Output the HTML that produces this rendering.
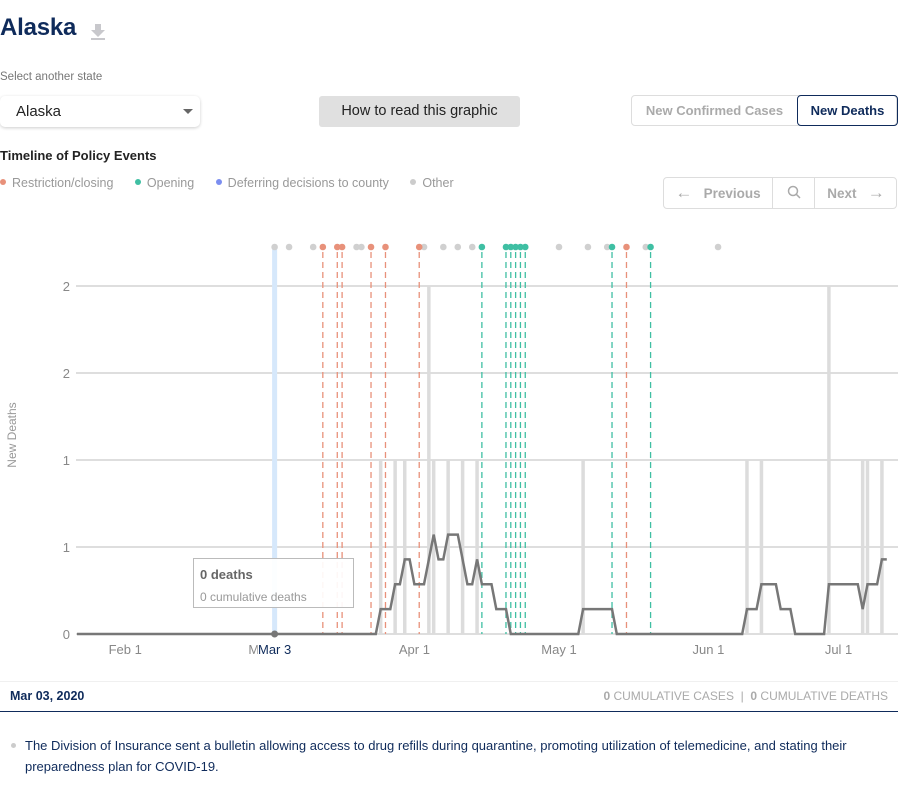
<!DOCTYPE html>
<html><head><meta charset="utf-8"><style>
body{margin:0;width:898px;height:797px;background:#fff;font-family:"Liberation Sans",sans-serif;position:relative;overflow:hidden}
.abs{position:absolute}
</style></head><body>
<div class="abs" style="left:0;top:14px;font-size:24px;font-weight:900;color:#0f2b5b;letter-spacing:-0.2px">Alaska</div>
<svg class="abs" style="left:90px;top:23px" width="16" height="18"><path d="M5 1h6v6h4l-7 7-7-7h4z" fill="#c8c8cc"/><rect x="1" y="15" width="14" height="2" fill="#c8c8cc"/></svg>
<div class="abs" style="left:0;top:71px;font-size:11.5px;color:#777">Select another state</div>
<div class="abs" style="left:0;top:96px;width:200px;height:31px;border-radius:5px;box-shadow:0 1px 3px rgba(0,0,0,.2);background:#fff">
<span style="position:absolute;left:16px;top:7px;font-size:15px;color:#222">Alaska</span>
<span style="position:absolute;left:183px;top:13px;width:0;height:0;border-left:5px solid transparent;border-right:5px solid transparent;border-top:5px solid #666"></span></div>
<div class="abs" style="left:319px;top:96px;width:201px;height:31px;background:#e0e0e0;border-radius:3px;font-size:14.5px;color:#222;text-align:center;line-height:31px">How to read this graphic</div>
<div class="abs" style="left:631px;top:95px;width:266px;height:31px;border:1px solid #ddd;border-radius:4px;box-sizing:border-box">
<span style="position:absolute;left:0;top:0;width:165px;height:29px;line-height:29px;text-align:center;font-size:13px;font-weight:bold;color:#aaa">New Confirmed Cases</span>
<span style="position:absolute;left:165px;top:-1px;width:101px;height:31px;box-sizing:border-box;border:1px solid #0f2b5b;border-radius:4px;line-height:29px;text-align:center;font-size:13px;font-weight:bold;color:#0f2b5b">New Deaths</span></div>
<div class="abs" style="left:0;top:148px;font-size:13px;font-weight:bold;color:#222">Timeline of Policy Events</div>
<div class="abs" style="left:0;top:176px;font-size:12.5px;color:#999;white-space:nowrap">
<span><span style="display:inline-block;width:6px;height:6px;border-radius:3px;background:#e8917a;margin-right:6px;vertical-align:2px"></span>Restriction/closing</span>
<span style="margin-left:18px"><span style="display:inline-block;width:6px;height:6px;border-radius:3px;background:#3fbfa3;margin-right:6px;vertical-align:2px"></span>Opening</span>
<span style="margin-left:18px"><span style="display:inline-block;width:6px;height:6px;border-radius:3px;background:#7b8ef0;margin-right:6px;vertical-align:2px"></span>Deferring decisions to county</span>
<span style="margin-left:18px"><span style="display:inline-block;width:6px;height:6px;border-radius:3px;background:#ccc;margin-right:6px;vertical-align:2px"></span>Other</span></div>
<div class="abs" style="left:663px;top:177px;width:234px;height:32px;border:1px solid #ddd;border-radius:4px;box-sizing:border-box;font-size:13.5px;font-weight:bold;color:#aaa">
<span style="position:absolute;left:0;top:0;width:108px;height:30px;line-height:30px;text-align:center;border-right:1px solid #ddd"><span style="font-size:17px;font-weight:normal">←</span>&nbsp;&nbsp;&nbsp;Previous</span>
<span style="position:absolute;left:109px;top:0;width:41px;height:30px;line-height:30px;text-align:center;border-right:1px solid #ddd">
<svg width="14" height="14" style="vertical-align:-2px"><circle cx="6" cy="6" r="4.5" fill="none" stroke="#aaa" stroke-width="1.5"/><line x1="9.3" y1="9.3" x2="13" y2="13" stroke="#aaa" stroke-width="1.5"/></svg></span>
<span style="position:absolute;left:151px;top:0;width:82px;height:30px;line-height:30px;text-align:center">Next&nbsp;&nbsp;&nbsp;<span style="font-size:17px;font-weight:normal">→</span></span></div>

<svg class="abs" id="chart" style="left:0;top:0" width="898" height="680"></svg>

<div class="abs" style="left:193px;top:558px;width:161px;height:50px;box-sizing:border-box;border:1px solid #bbb;background:rgba(255,255,255,.92)">
<div style="position:absolute;left:6px;top:8px;font-size:13px;font-weight:bold;color:#666">0 deaths</div>
<div style="position:absolute;left:6px;top:31px;font-size:12px;color:#999">0 cumulative deaths</div></div>

<div class="abs" style="left:0;top:681px;width:898px;height:31px;border-top:1px solid #f0f0f0;border-bottom:1px solid #0f2b5b;box-sizing:border-box">
<span style="position:absolute;left:10px;top:7px;font-size:12.5px;font-weight:bold;color:#0f2b5b">Mar 03, 2020</span>
<span style="position:absolute;right:10px;top:7px;font-size:12px;color:#aaa"><b>0</b> CUMULATIVE CASES &nbsp;|&nbsp; <b>0</b> CUMULATIVE DEATHS</span></div>
<div class="abs" style="left:11px;top:735px;width:880px;font-family:'Liberation Sans Narrow','Liberation Sans',sans-serif;font-size:13px;line-height:21px;color:#0f2b5b">
<span style="position:absolute;left:0;top:8px;width:5px;height:5px;border-radius:3px;background:#ccc"></span>
<div style="margin-left:14px">The Division of Insurance sent a bulletin allowing access to drug refills during quarantine, promoting utilization of telemedicine, and stating their preparedness plan for COVID-19.</div></div>

<script>
// days since Jan 22, 2020
const barDays=[63,66,68,73,74,77,80,83,105,139,142,156,163,164,167];
const barDeaths=[1,1,1,2,1,1,1,1,1,1,1,2,1,1,1];
const lastDay=168;
const restrictionDays=[51,54,55,61,64,71,114];
const openingDays=[84,89,90,91,92,93,111,119];
const otherDays=[41,44,49,58,59,72,76,79,82,100,106,110,118,133];
const yTicks=[0,0.5,1,1.5,2];
const yTickLabels=["0","1","1","2","2"];
const xTickDays=[10,39,70,100,131,158];
const xTickLabels=["Feb 1","Mar 1","Apr 1","May 1","Jun 1","Jul 1"];
const selectedDay=41;
const selectedLabel="Mar 3";

const svg=document.getElementById('chart');
const NS='http://www.w3.org/2000/svg';
const x=d=>77+4.82*d;
const y=v=>634-174*v;
function mk(t,a){const e=document.createElementNS(NS,t);for(const k in a)e.setAttribute(k,a[k]);svg.appendChild(e);return e;}

yTicks.forEach((v,i)=>{
  const g=mk('line',{x1:76,x2:898,y1:y(v),y2:y(v),stroke:'#d4d4d4','stroke-width':1.5});
  
  
  const t=mk('text',{x:70,y:y(v)+5,'text-anchor':'end','font-size':13,fill:'#888','font-family':'Liberation Sans'});
  t.textContent=yTickLabels[i];
  
  
});
const yt=mk('text',{x:0,y:0,transform:'translate(16,435) rotate(-90)','text-anchor':'middle','font-size':12,fill:'#999','font-family':'Liberation Sans'});
yt.textContent='New Deaths';



const hl=mk('rect',{x:x(selectedDay)-2.5,y:247,width:5,height:387,fill:'#d6e8fb'});



barDays.forEach((d,i)=>{
  const b=mk('line',{x1:x(d),x2:x(d),y1:y(0),y2:y(barDeaths[i]),stroke:'#dcdcdc','stroke-width':3.5});
  
  
});

function ev(days,col,dashed,name){
  days.forEach(d=>{
    if(dashed){
      const l=mk('line',{x1:x(d),x2:x(d),y1:252,y2:634,stroke:col,'stroke-width':1.3,'stroke-dasharray':'6,4'});
      
      
    }
    const c=mk('circle',{cx:x(d),cy:247,r:3.3,fill:col});
    
    
  });
}
ev(otherDays,'#d0d0d0',false,'other');
ev(restrictionDays,'#e8917a',true,'restriction');
ev(openingDays,'#3fbfa3',true,'opening');

const daily=new Array(lastDay+1).fill(0);
barDays.forEach((d,i)=>daily[d]+=barDeaths[i]);
let pts=[];
for(let d=0;d<=lastDay;d++){let s=0;for(let k=Math.max(0,d-6);k<=d;k++)s+=daily[k];pts.push(x(d).toFixed(1)+','+y(s/7).toFixed(1));}
const pl=mk('polyline',{points:pts.join(' '),fill:'none',stroke:'#777','stroke-width':2.5,'stroke-linejoin':'miter'});



const sd=mk('circle',{cx:x(selectedDay),cy:y(0),r:3.5,fill:'#777'});



xTickDays.forEach((d,i)=>{
  const t=mk('text',{x:x(d),y:654,'text-anchor':'middle','font-size':13,fill:'#888','font-family':'Liberation Sans'});
  t.textContent=xTickLabels[i];
  
  
});
const sbg=mk('rect',{x:x(selectedDay)-17,y:640,width:36,height:20,fill:'#fff'});


const st=mk('text',{x:x(selectedDay),y:654,'text-anchor':'middle','font-size':13,fill:'#0f2b5b','font-family':'Liberation Sans'});
st.textContent=selectedLabel;


</script>
</body></html>
